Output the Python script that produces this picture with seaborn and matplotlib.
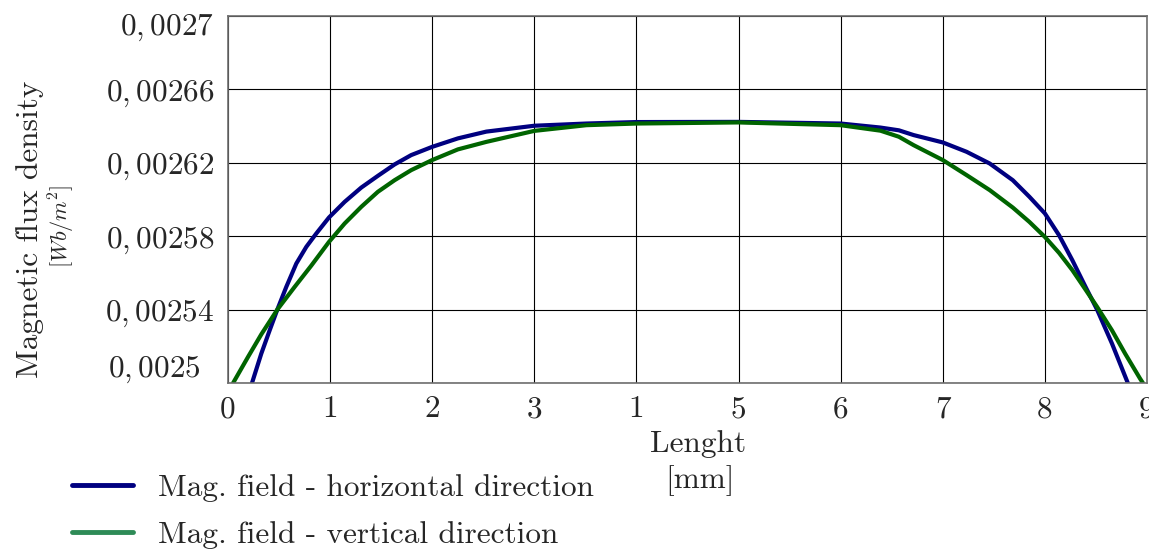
import numpy as np
import pandas as pd
import matplotlib
matplotlib.use("Agg")
import matplotlib.pyplot as plt
import matplotlib.transforms as mtransforms
import seaborn as sns
from matplotlib.lines import Line2D

# values
horiz_x = [0.235, 0.326, 0.408, 0.483, 0.571, 0.669, 0.767, 0.865, 0.989, 1.142, 1.305,
           1.468, 1.631, 1.794, 2.0, 2.251, 2.53, 3.0, 3.51, 4.0, 5.0, 6.0, 6.39, 6.57,
           6.715, 7.0, 7.233, 7.46, 7.686, 7.848, 8.0, 8.139, 8.269, 8.398, 8.511, 8.657,
           8.812]
horiz_y = [0.0025, 0.002516, 0.0025287, 0.00254, 0.0025524, 0.0025651, 0.0025742,
           0.0025815, 0.0025902, 0.0025987, 0.0026065, 0.0026129, 0.0026191, 0.0026242,
           0.0026287, 0.0026333, 0.002637, 0.0026402, 0.0026414, 0.0026422, 0.0026423,
           0.0026414, 0.0026392, 0.0026377, 0.0026351, 0.0026311, 0.002626, 0.0026196,
           0.0026105, 0.0026015, 0.0025924, 0.0025805, 0.0025669, 0.0025524, 0.00254,
           0.0025215, 0.0025]

vert_x = [0.05, 0.196, 0.326, 0.483, 0.653, 0.816, 0.989, 1.142, 1.305, 1.468, 1.631,
          1.794, 2.0, 2.251, 2.53, 3.0, 3.51, 4.0, 5.0, 6.0, 6.39, 6.57, 6.715, 7.0,
          7.233, 7.46, 7.686, 7.848, 8.0, 8.139, 8.269, 8.398, 8.511, 8.657, 8.786,
          8.932, 8.96]
vert_y = [0.0025, 0.0025142, 0.0025265, 0.00254, 0.0025524, 0.002564, 0.0025769,
          0.0025869, 0.002596, 0.0026042, 0.0026105, 0.002616, 0.0026215, 0.0026273,
          0.0026314, 0.0026374, 0.0026405, 0.0026414, 0.002642, 0.0026405, 0.0026375,
          0.0026342, 0.0026296, 0.0026215, 0.0026133, 0.0026051, 0.0025956, 0.0025878,
          0.0025796, 0.0025709, 0.0025615, 0.0025509, 0.0025415, 0.0025287, 0.002516,
          0.0025024, 0.0025]

x_ticks = [0, 1, 2, 3, 4, 5, 6, 7, 8, 9]
x_ticklabels = ["0", "1", "2", "3", "1", "5", "6", "7", "8", "9"]
y_ticks = [0.0025, 0.00254, 0.00258, 0.00262, 0.00266, 0.0027]
y_ticklabels = ["$0,0025$", "$0,00254$", "$0,00258$", "$0,00262$", "$0,00266$", "$0,0027$"]

labels = ["Mag. field - horizontal direction", "Mag. field - vertical direction"]

df = pd.concat([
    pd.DataFrame({"x": horiz_x, "y": horiz_y, "series": labels[0]}),
    pd.DataFrame({"x": vert_x, "y": vert_y, "series": labels[1]}),
])

sns.set_style("white")
plt.rcParams["font.family"] = ["cmr10", "DejaVu Serif"]
plt.rcParams["mathtext.fontset"] = "cm"
plt.rcParams["axes.formatter.use_mathtext"] = True

fig = plt.figure(figsize=(11.49, 5.51), dpi=100)
ax = fig.add_axes([228 / 1149, 1 - 383 / 551, (1147 - 228) / 1149, (383 - 16) / 551])

sns.lineplot(data=df, x="x", y="y", hue="series", sort=False, estimator=None,
             palette={labels[0]: "#000080", labels[1]: "#006400"},
             linewidth=3, ax=ax, legend=False)
for ln in ax.lines:
    ln.set_solid_joinstyle("round")

ax.set_xlim(0, 9)
ax.set_ylim(0.0025, 0.0027)
ax.set_xticks(x_ticks)
ax.set_xticklabels(x_ticklabels, fontsize=22.5)
ax.set_yticks(y_ticks)
ax.set_yticklabels(y_ticklabels, fontsize=22.5)
ax.tick_params(axis="both", length=0)
ax.tick_params(axis="x", pad=9)
ax.tick_params(axis="y", pad=10)
ax.set_xlabel("")
ax.set_ylabel("")
ax.grid(True, color="black", linewidth=0.8)
for sp in ax.spines.values():
    sp.set_color("#6e6e6e")
    sp.set_linewidth(1.2)

# end labels sit a bit inside, like in the original
ylabs = ax.get_yticklabels()
ylabs[0].set_transform(ylabs[0].get_transform() +
                       mtransforms.ScaledTranslation(-13 / 100, 17 / 100, fig.dpi_scale_trans))
ylabs[-1].set_transform(ylabs[-1].get_transform() +
                        mtransforms.ScaledTranslation(0, -8 / 100, fig.dpi_scale_trans))

fig.text(30 / 1149, 1 - 229 / 551, "Magnetic flux density", rotation=90,
         ha="center", va="center", fontsize=22.5)
fig.text(62 / 1149, 1 - 226 / 551, r"$[Wb/m^2]$", rotation=90,
         ha="center", va="center", fontsize=16)
fig.text(698 / 1149, 1 - 444 / 551, "Lenght", ha="center", va="center", fontsize=22.5)
fig.text(700 / 1149, 1 - 481 / 551, "[mm]", ha="center", va="center", fontsize=22.5)

handles = [Line2D([], [], color="#000080", linewidth=3.5),
           Line2D([], [], color="#2e8b57", linewidth=3.5)]
fig.legend(handles, labels, loc="upper left", bbox_to_anchor=(72 / 1149, 1 - 474 / 551),
           frameon=False, fontsize=22.5, handlelength=1.95, handletextpad=0.8,
           labelspacing=0.6, borderpad=0, borderaxespad=0)

fig.savefig("out.png", dpi=100)
